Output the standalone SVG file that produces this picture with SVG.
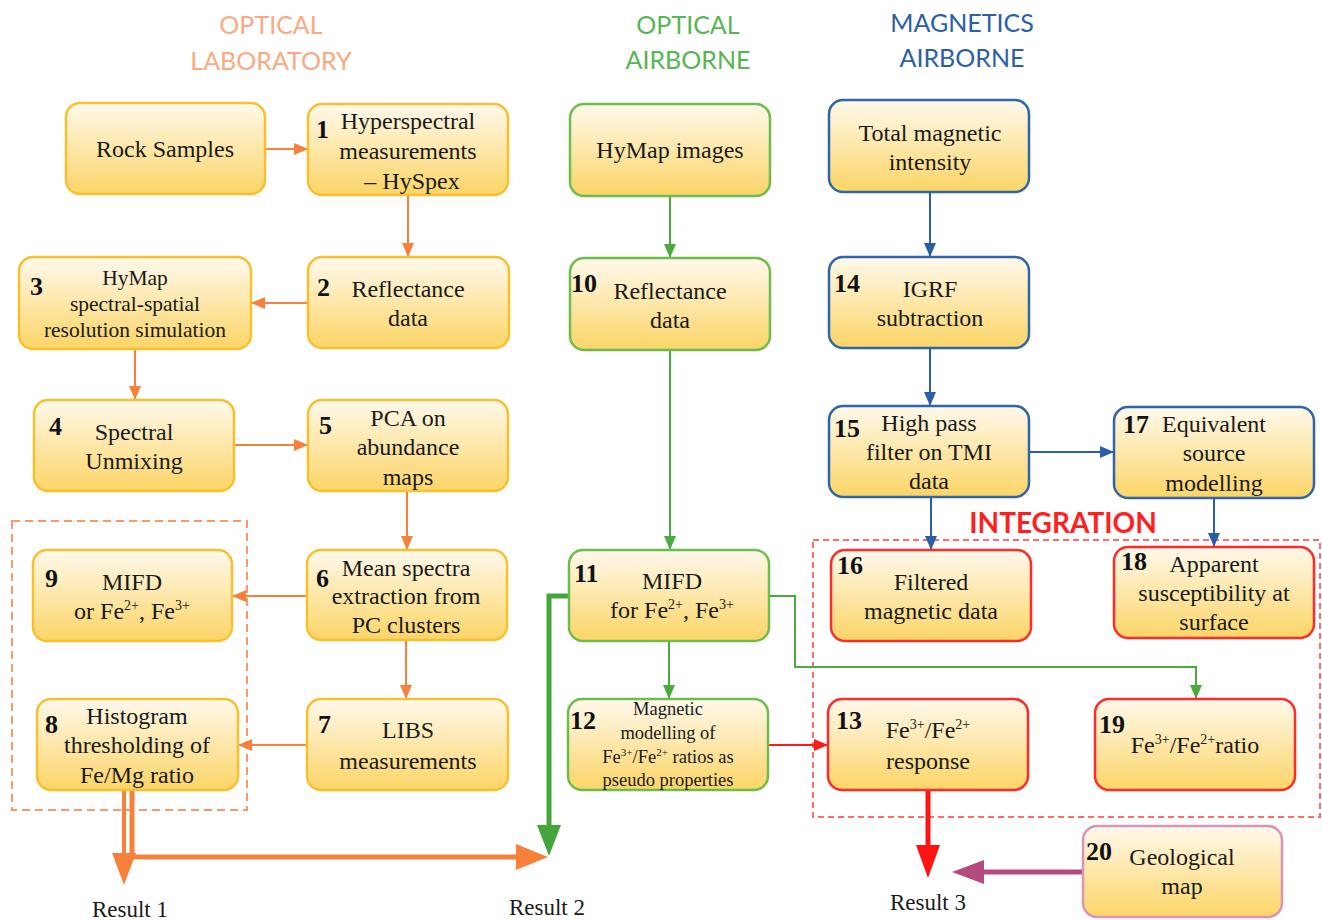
<svg xmlns="http://www.w3.org/2000/svg" width="1322" height="920" viewBox="0 0 1322 920">
<style>
.box{stroke-width:2.5}
.o{stroke:#f7c02e}
.g{stroke:#6cbd4c}
.b{stroke:#2f66a8}
.r{stroke:#ff2b2b}
.p{stroke:#d894b9}
.t{font-family:"Liberation Serif","Times New Roman",serif;font-size:24px;fill:#1a1a1a;text-anchor:middle}
.s{font-size:21.5px}
.xs{font-size:18.5px}
.n{font-family:"Liberation Serif","Times New Roman",serif;font-size:26px;font-weight:bold;fill:#111}
.h{font-family:Lato,"Open Sans",sans-serif;font-size:25px;text-anchor:middle}
.res{font-family:"Liberation Serif","Times New Roman",serif;font-size:23px;fill:#1a1a1a;text-anchor:middle}
.co{stroke:#f7813a;stroke-width:2;fill:none}
.cg{stroke:#4aaa3f;stroke-width:2;fill:none}
.cb{stroke:#2a5ea8;stroke-width:2;fill:none}
.cr{stroke:#ff1a1a;stroke-width:2;fill:none}
</style>
<defs>
<linearGradient id="fill" x1="0" y1="0" x2="0" y2="1">
<stop offset="0" stop-color="#fff9ec"/>
<stop offset="0.55" stop-color="#fde5a2"/>
<stop offset="1" stop-color="#fcd566"/>
</linearGradient>
<marker id="ao" markerWidth="14" markerHeight="12" refX="13" refY="6" orient="auto" markerUnits="userSpaceOnUse"><path d="M0,0 L14,6 L0,12 z" fill="#f7813a"/></marker>
<marker id="ag" markerWidth="14" markerHeight="12" refX="13" refY="6" orient="auto" markerUnits="userSpaceOnUse"><path d="M0,0 L14,6 L0,12 z" fill="#4aaa3f"/></marker>
<marker id="ab" markerWidth="14" markerHeight="12" refX="13" refY="6" orient="auto" markerUnits="userSpaceOnUse"><path d="M0,0 L14,6 L0,12 z" fill="#2a5ea8"/></marker>
<marker id="ar" markerWidth="14" markerHeight="12" refX="13" refY="6" orient="auto" markerUnits="userSpaceOnUse"><path d="M0,0 L14,6 L0,12 z" fill="#ff1a1a"/></marker>
</defs>
<rect width="1322" height="920" fill="#fff"/>

<g id="headers">
<text class="h" x="271" y="34" fill="#f9aa80">OPTICAL</text>
<text class="h" x="271" y="70" fill="#f9aa80">LABORATORY</text>
<text class="h" x="688" y="34" fill="#55b653">OPTICAL</text>
<text class="h" x="688" y="69" fill="#55b653">AIRBORNE</text>
<text class="h" x="962" y="32" fill="#2b5fa6">MAGNETICS</text>
<text class="h" x="962" y="67" fill="#2b5fa6">AIRBORNE</text>
<text x="1063" y="533" font-family="Lato,'Open Sans',sans-serif" font-size="28" font-weight="bold" fill="#ff1f1f" text-anchor="middle">INTEGRATION</text>
</g>

<g id="frames">
<rect x="12" y="521" width="235" height="289" fill="none" stroke="#f7996a" stroke-width="2" stroke-dasharray="8,5"/>
<rect x="813" y="540" width="507" height="277" fill="none" stroke="#ff6a6a" stroke-width="2" stroke-dasharray="6,4"/>
</g>

<g id="connectors">
<line class="co" x1="265" y1="149" x2="307" y2="149" marker-end="url(#ao)"/>
<line class="co" x1="408" y1="195" x2="408" y2="256" marker-end="url(#ao)"/>
<line class="co" x1="308" y1="303" x2="252" y2="303" marker-end="url(#ao)"/>
<line class="co" x1="135" y1="349" x2="135" y2="399" marker-end="url(#ao)"/>
<line class="co" x1="234" y1="445" x2="307" y2="445" marker-end="url(#ao)"/>
<line class="co" x1="407" y1="491" x2="407" y2="549" marker-end="url(#ao)"/>
<line class="co" x1="307" y1="596" x2="233" y2="596" marker-end="url(#ao)"/>
<line class="co" x1="406" y1="640" x2="406" y2="698" marker-end="url(#ao)"/>
<line class="co" x1="307" y1="745" x2="239" y2="745" marker-end="url(#ao)"/>
<line class="cg" x1="670" y1="196" x2="670" y2="257" marker-end="url(#ag)"/>
<line class="cg" x1="670" y1="350" x2="670" y2="549" marker-end="url(#ag)"/>
<line class="cg" x1="669" y1="641" x2="669" y2="698" marker-end="url(#ag)"/>
<path class="cg" d="M769,596 H795 V667 H1196 V698" marker-end="url(#ag)"/>
<line class="cr" x1="768" y1="745" x2="827" y2="745" marker-end="url(#ar)"/>
<line class="cb" x1="930" y1="192" x2="930" y2="256" marker-end="url(#ab)"/>
<line class="cb" x1="930" y1="348" x2="930" y2="405" marker-end="url(#ab)"/>
<line class="cb" x1="1029" y1="452" x2="1113" y2="452" marker-end="url(#ab)"/>
<line class="cb" x1="931" y1="497" x2="931" y2="549" marker-end="url(#ab)"/>
<line class="cb" x1="1214" y1="498" x2="1214" y2="546" marker-end="url(#ab)"/>
<line x1="124" y1="790" x2="124" y2="858" stroke="#f7813a" stroke-width="4"/>
<polygon points="112,853 136,853 124,885" fill="#f7813a"/>
<path d="M132,790 V857 H520" stroke="#f7813a" stroke-width="5" fill="none"/>
<polygon points="516,844 548,857 516,870" fill="#f7813a"/>
<path d="M569,596 H549 V828" stroke="#44a63a" stroke-width="5" fill="none"/>
<polygon points="537,825 561,825 549,856" fill="#44a63a"/>
<line x1="928" y1="790" x2="928" y2="850" stroke="#ff1414" stroke-width="5"/>
<polygon points="916,845 940,845 928,878" fill="#ff1414"/>
<line x1="1083" y1="872" x2="980" y2="872" stroke="#b54a7f" stroke-width="5"/>
<polygon points="984,860 984,884 952,872" fill="#b54a7f"/>
</g>

<g id="rock"><rect class="box o" x="66" y="103" width="199" height="91" rx="14" fill="url(#fill)"/>
<text class="t" x="165" y="157">Rock Samples</text></g>

<g id="n1"><rect class="box o" x="308" y="104" width="200" height="91" rx="14" fill="url(#fill)"/>
<text class="n" x="316" y="138">1</text>
<text class="t" x="408" y="129">Hyperspectral</text>
<text class="t" x="408" y="159">measurements</text>
<text class="t" x="412" y="189">– HySpex</text></g>

<g id="n2"><rect class="box o" x="308" y="257" width="201" height="91" rx="14" fill="url(#fill)"/>
<text class="n" x="317" y="296">2</text>
<text class="t" x="408" y="297">Reflectance</text>
<text class="t" x="408" y="326">data</text></g>

<g id="n3"><rect class="box o" x="19" y="257" width="232" height="92" rx="14" fill="url(#fill)"/>
<text class="n" x="30" y="295">3</text>
<text class="t s" x="135" y="285">HyMap</text>
<text class="t s" x="135" y="311">spectral-spatial</text>
<text class="t s" x="135" y="337">resolution simulation</text></g>

<g id="n4"><rect class="box o" x="34" y="400" width="200" height="91" rx="14" fill="url(#fill)"/>
<text class="n" x="49" y="435">4</text>
<text class="t" x="134" y="440">Spectral</text>
<text class="t" x="134" y="469">Unmixing</text></g>

<g id="n5"><rect class="box o" x="308" y="400" width="200" height="91" rx="14" fill="url(#fill)"/>
<text class="n" x="319" y="434">5</text>
<text class="t" x="408" y="426">PCA on</text>
<text class="t" x="408" y="455">abundance</text>
<text class="t" x="408" y="485">maps</text></g>

<g id="n6"><rect class="box o" x="307" y="550" width="200" height="90" rx="14" fill="url(#fill)"/>
<text class="n" x="316" y="587">6</text>
<text class="t" x="406" y="576">Mean spectra</text>
<text class="t" x="406" y="604">extraction from</text>
<text class="t" x="406" y="633">PC clusters</text></g>

<g id="n9"><rect class="box o" x="33" y="550" width="199" height="91" rx="14" fill="url(#fill)"/>
<text class="n" x="45" y="587">9</text>
<text class="t" x="132" y="590">MIFD</text>
<text class="t" x="132" y="619">or Fe<tspan dy="-9" font-size="14">2+</tspan><tspan dy="9">, Fe</tspan><tspan dy="-9" font-size="14">3+</tspan></text></g>

<g id="n7"><rect class="box o" x="307" y="699" width="201" height="91" rx="14" fill="url(#fill)"/>
<text class="n" x="318" y="733">7</text>
<text class="t" x="408" y="738">LIBS</text>
<text class="t" x="408" y="769">measurements</text></g>

<g id="n8"><rect class="box o" x="37" y="699" width="201" height="91" rx="14" fill="url(#fill)"/>
<text class="n" x="45" y="733">8</text>
<text class="t" x="137" y="724">Histogram</text>
<text class="t" x="137" y="753">thresholding of</text>
<text class="t" x="137" y="783">Fe/Mg ratio</text></g>

<g id="hymap"><rect class="box g" x="570" y="104" width="200" height="92" rx="14" fill="url(#fill)"/>
<text class="t" x="670" y="158">HyMap images</text></g>

<g id="n10"><rect class="box g" x="570" y="258" width="200" height="92" rx="14" fill="url(#fill)"/>
<text class="n" x="571" y="292">10</text>
<text class="t" x="670" y="299">Reflectance</text>
<text class="t" x="670" y="328">data</text></g>

<g id="n11"><rect class="box g" x="569" y="550" width="200" height="91" rx="14" fill="url(#fill)"/>
<text class="n" x="574" y="582">11</text>
<text class="t" x="672" y="589">MIFD</text>
<text class="t" x="672" y="618">for Fe<tspan dy="-9" font-size="14">2+</tspan><tspan dy="9">, Fe</tspan><tspan dy="-9" font-size="14">3+</tspan></text></g>

<g id="n12"><rect class="box g" x="568" y="699" width="200" height="91" rx="14" fill="url(#fill)"/>
<text class="n" x="570" y="729">12</text>
<text class="t xs" x="668" y="715">Magnetic</text>
<text class="t xs" x="668" y="739">modelling of</text>
<text class="t xs" x="668" y="763">Fe<tspan dy="-7" font-size="11">3+</tspan><tspan dy="7">/Fe</tspan><tspan dy="-7" font-size="11">2+</tspan><tspan dy="7">  ratios as</tspan></text>
<text class="t xs" x="668" y="786">pseudo properties</text></g>

<g id="tmi"><rect class="box b" x="829" y="100" width="200" height="92" rx="14" fill="url(#fill)"/>
<text class="t" x="930" y="141">Total magnetic</text>
<text class="t" x="930" y="170">intensity</text></g>

<g id="n14"><rect class="box b" x="829" y="257" width="200" height="91" rx="14" fill="url(#fill)"/>
<text class="n" x="834" y="292">14</text>
<text class="t" x="930" y="297">IGRF</text>
<text class="t" x="930" y="326">subtraction</text></g>

<g id="n15"><rect class="box b" x="829" y="406" width="200" height="91" rx="14" fill="url(#fill)"/>
<text class="n" x="834" y="437">15</text>
<text class="t" x="929" y="431">High pass</text>
<text class="t" x="929" y="460">filter on TMI</text>
<text class="t" x="929" y="489">data</text></g>

<g id="n17"><rect class="box b" x="1114" y="407" width="200" height="91" rx="14" fill="url(#fill)"/>
<text class="n" x="1123" y="433">17</text>
<text class="t" x="1214" y="432">Equivalent</text>
<text class="t" x="1214" y="461">source</text>
<text class="t" x="1214" y="491">modelling</text></g>

<g id="n16"><rect class="box r" x="831" y="550" width="200" height="91" rx="14" fill="url(#fill)"/>
<text class="n" x="837" y="574">16</text>
<text class="t" x="931" y="590">Filtered</text>
<text class="t" x="931" y="619">magnetic data</text></g>

<g id="n18"><rect class="box r" x="1114" y="547" width="200" height="91" rx="14" fill="url(#fill)"/>
<text class="n" x="1121" y="570">18</text>
<text class="t" x="1214" y="572">Apparent</text>
<text class="t" x="1214" y="601">susceptibility at</text>
<text class="t" x="1214" y="630">surface</text></g>

<g id="n13"><rect class="box r" x="828" y="699" width="200" height="91" rx="14" fill="url(#fill)"/>
<text class="n" x="836" y="729">13</text>
<text class="t" x="928" y="738">Fe<tspan dy="-9" font-size="14">3+</tspan><tspan dy="9">/Fe</tspan><tspan dy="-9" font-size="14">2+</tspan></text>
<text class="t" x="928" y="769">response</text></g>

<g id="n19"><rect class="box r" x="1095" y="699" width="200" height="91" rx="14" fill="url(#fill)"/>
<text class="n" x="1099" y="733">19</text>
<text class="t" x="1195" y="753">Fe<tspan dy="-9" font-size="14">3+</tspan><tspan dy="9">/Fe</tspan><tspan dy="-9" font-size="14">2+</tspan><tspan dy="9">ratio</tspan></text></g>

<g id="n20"><rect class="box p" x="1083" y="826" width="199" height="91" rx="14" fill="url(#fill)"/>
<text class="n" x="1086" y="860">20</text>
<text class="t" x="1182" y="865">Geological</text>
<text class="t" x="1182" y="894">map</text></g>

<g id="results">
<text class="res" x="130" y="917">Result 1</text>
<text class="res" x="547" y="915">Result 2</text>
<text class="res" x="928" y="910">Result 3</text>
</g>
</svg>
